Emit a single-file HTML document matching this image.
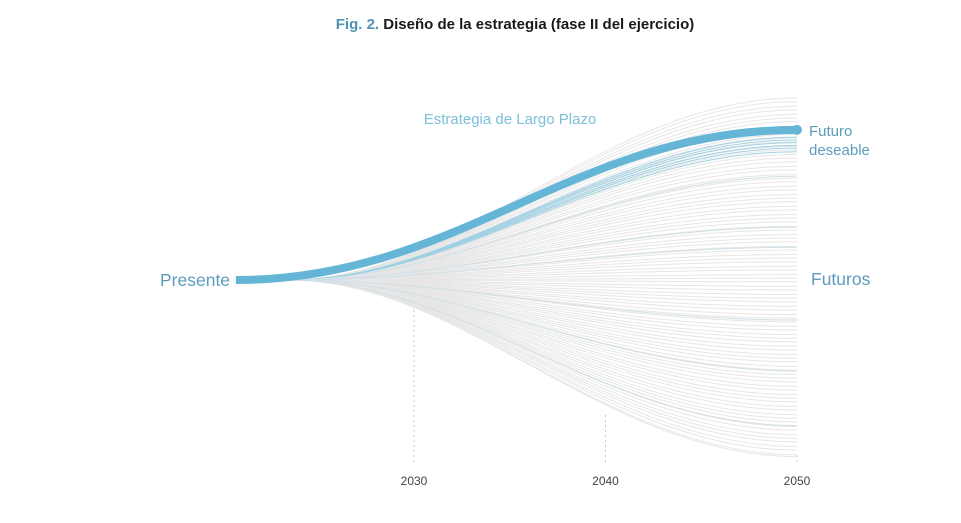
<!DOCTYPE html>
<html><head><meta charset="utf-8">
<style>
html,body{margin:0;padding:0;background:#fff;}
body{width:961px;height:523px;overflow:hidden;font-family:"Liberation Sans",sans-serif;}
svg{display:block}
</style></head>
<body>
<svg id="chart" width="961" height="523">
  <text x="515" y="29" text-anchor="middle" font-size="15" font-weight="bold"><tspan fill="#4f93b3">Fig. 2.</tspan><tspan fill="#1a1a1a"> Diseño de la estrategia (fase II del ejercicio)</tspan></text>
  <g id="grid"></g>
  <g id="fan"></g>
  <g id="blue"></g>
  <g id="hl"></g>
  <text x="510" y="124" text-anchor="middle" font-size="15" fill="#7cc0da">Estrategia de Largo Plazo</text>
  <text x="160" y="286" font-size="17.5" fill="#5d9cbb">Presente</text>
  <text x="811" y="285" font-size="17.5" fill="#5d9cbb">Futuros</text>
  <text x="809" y="136" font-size="15" fill="#5d9cbb">Futuro</text>
  <text x="809" y="155" font-size="15" fill="#5d9cbb">deseable</text>
  <g id="xaxis"></g>
</svg>
<script>
const xTicks = [2030, 2040, 2050];
const fanStartYear = 2023.5;
const hlStartYear = 2020.7;
const futures = [100,98,95.5,93.5,91,89,87,84.5,82.5,80,78,76,73.5,71.5,69,67,65,62.5,60.5,58,56,54,51.5,49.5,47,45,43,40.5,38.5,36,34,32,29.5,27.5,25,23,21,18.5,16.5,14,12,10,7.5,5.5,3,1,-1,-3.5,-5.5,-8,-10,-12,-14.5,-16.5,-19,-21,-23,-25.5,-27.5,-30,-32,-34,-36.5,-38.5,-41,-43,-45,-47.5,-49.5,-52,-54,-56,-58.5,-60.5,-63,-65,-67,-69.5,-71.5,-74,-76,-78,-80.5,-82.5,-85,-87,-89,-91.5,-93.5,-96,-97];
const blueFutures = [78.5,77,75.5,74,72.5,70.5,57,29,18,-22,-50,-80];
const desiredFuture = 82.5;

const NS = 'http://www.w3.org/2000/svg';
function xs(yr){ return 414 + (yr-2030)*19.15; }
function ys(v){ return 280 - v*1.82; }
const x0 = xs(fanStartYear), x1 = xs(2050);
function curve(xa, v){
  const ya = ys(0), yb = ys(v);
  const dx = x1 - xa;
  return `M${xa},${ya} C${xa+dx*0.34},${ya} ${xa+dx*0.62},${yb} ${x1},${yb}`;
}
const grid = document.getElementById('grid');
const gx = document.getElementById('xaxis');
const dashTop = {2030: 300, 2040: 415, 2050: 455};
xTicks.forEach(t => {
  const l = document.createElementNS(NS,'line');
  l.setAttribute('x1', xs(t)); l.setAttribute('x2', xs(t));
  l.setAttribute('y1', dashTop[t]); l.setAttribute('y2', 465);
  l.setAttribute('stroke', '#c8c8c8'); l.setAttribute('stroke-dasharray', '2,3');
  
  
  grid.appendChild(l);
  const tx = document.createElementNS(NS,'text');
  tx.setAttribute('x', xs(t)); tx.setAttribute('y', 485);
  tx.setAttribute('text-anchor', 'middle'); tx.setAttribute('font-size', '12');
  tx.setAttribute('fill', '#444');
  tx.textContent = t;
  
  
  gx.appendChild(tx);
});
const fan = document.getElementById('fan');
futures.forEach(v => {
  const p = document.createElementNS(NS,'path');
  p.setAttribute('d', curve(x0, v));
  p.setAttribute('fill','none'); p.setAttribute('stroke','#e6e6e6'); p.setAttribute('stroke-width','1');
  
  
  fan.appendChild(p);
});
const blue = document.getElementById('blue');
blueFutures.forEach(v => {
  const p = document.createElementNS(NS,'path');
  p.setAttribute('d', curve(x0, v));
  p.setAttribute('fill','none');
  p.setAttribute('stroke', v > 65 ? '#9fd0e3' : '#cfdfe8');
  p.setAttribute('stroke-width', '1');
  
  
  blue.appendChild(p);
});
const hl = document.getElementById('hl');
const hp = document.createElementNS(NS,'path');
const xh = xs(hlStartYear);
{
  const ya = ys(0), yb = ys(desiredFuture), dx = x1 - xh;
  hp.setAttribute('d', `M${xh},${ya} C${xh+dx*0.4},${ya} ${xh+dx*0.6},${yb} ${x1},${yb}`);
}
hp.setAttribute('fill','none'); hp.setAttribute('stroke','#64b5d6'); hp.setAttribute('stroke-width','8');


hl.appendChild(hp);
const dot = document.createElementNS(NS,'circle');
dot.setAttribute('cx', x1); dot.setAttribute('cy', ys(desiredFuture)); dot.setAttribute('r', 5);
dot.setAttribute('fill', '#64b5d6');


hl.appendChild(dot);
</script>
</body></html>
